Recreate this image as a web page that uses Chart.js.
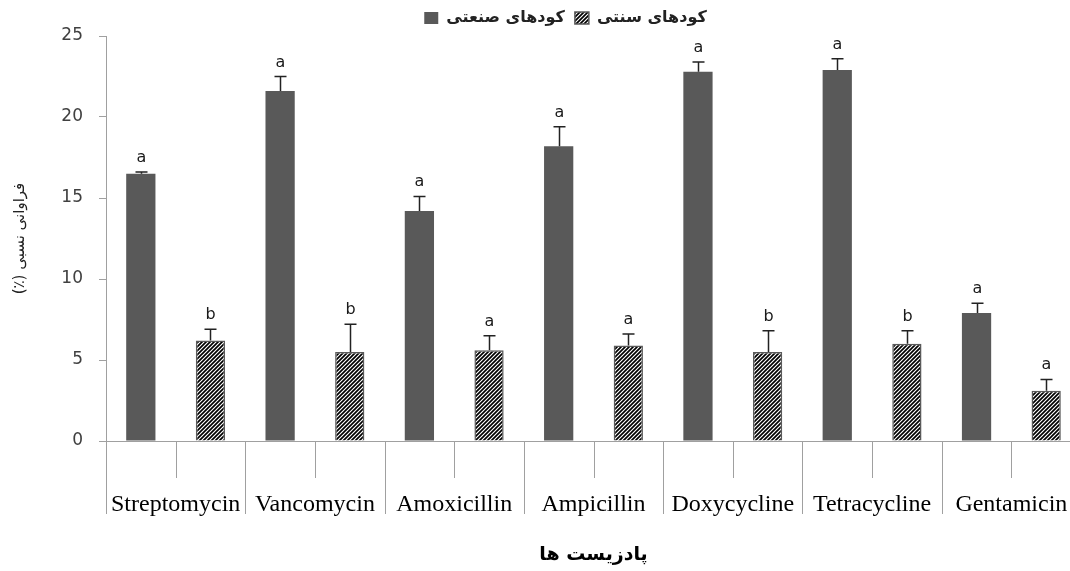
<!DOCTYPE html>
<html>
<head>
<meta charset="utf-8">
<script src="https://cdn.jsdelivr.net/npm/chart.js@4.4.1/dist/chart.umd.min.js"></script>
<style>
  html, body { margin: 0; padding: 0; overflow: hidden; background: #fff; }
  #wrap { width: 1085px; height: 571px; }
</style>
</head>
<body>
<div id="wrap"><canvas id="c" width="1085" height="571"></canvas></div>
<script>
// ---- data ----
const categories = ['Streptomycin', 'Vancomycin', 'Amoxicillin', 'Ampicillin', 'Doxycycline', 'Tetracycline', 'Gentamicin'];
const industrialLabel = 'کودهای صنعتی';
const traditionalLabel = 'کودهای سنتی';
const industrial = [16.5, 21.6, 14.2, 18.2, 22.8, 22.9, 7.9];
const industrialErr = [0.1, 0.9, 0.9, 1.2, 0.6, 0.7, 0.6];
const traditional = [6.2, 5.5, 5.6, 5.9, 5.5, 6.0, 3.1];
const traditionalErr = [0.7, 1.7, 0.9, 0.7, 1.3, 0.8, 0.7];
const industrialLetters = ['a', 'a', 'a', 'a', 'a', 'a', 'a'];
const traditionalLetters = ['b', 'b', 'a', 'a', 'b', 'b', 'a'];
const yTicks = [0, 5, 10, 15, 20, 25];
const yTitle = 'فراوانی نسبی (٪)\u200F';
const xTitle = 'پادزیست ها';

const canvas = document.getElementById('c');
const ctx = canvas.getContext('2d');

function makeHatch() {
  const s = 4;
  const c = document.createElement('canvas');
  c.width = s; c.height = s;
  const g = c.getContext('2d');
  g.fillStyle = '#ffffff';
  g.fillRect(0, 0, s, s);
  g.strokeStyle = '#000000';
  g.lineWidth = 1.7;
  g.beginPath();
  g.moveTo(0, s); g.lineTo(s, 0);
  g.moveTo(-1, 1); g.lineTo(1, -1);
  g.moveTo(s - 1, s + 1); g.lineTo(s + 1, s - 1);
  g.stroke();
  return ctx.createPattern(c, 'repeat');
}
const hatch = makeHatch();

const errs = [industrialErr, traditionalErr];
const letters = [industrialLetters, traditionalLetters];

const legendShiftPlugin = {
  id: 'legendShift',
  afterLayout(chart) {
    const lg = chart.legend;
    if (lg) { lg.left += 25; lg.right += 25; }
  }
};

const xAxisTicksPlugin = {
  id: 'xAxisTicks',
  afterDraw(chart) {
    const sx = chart.scales.x;
    const n = sx.ticks.length;
    const w = (sx.right - sx.left) / n;
    const c = chart.ctx;
    c.save();
    c.strokeStyle = '#a0a0a0';
    c.lineWidth = 1;
    c.beginPath();
    for (let i = 0; i <= n; i++) {
      const x = Math.round(sx.left + i * w) + 0.5;
      c.moveTo(x, sx.top);
      c.lineTo(x, sx.top + 73);
    }
    for (let i = 0; i < n; i++) {
      const x = Math.round(sx.getPixelForValue(i)) + 0.5;
      c.moveTo(x, sx.top);
      c.lineTo(x, sx.top + 37);
    }
    c.stroke();
    c.restore();
  }
};

const errorBarPlugin = {
  id: 'errorBars',
  afterDatasetsDraw(chart) {
    const c = chart.ctx;
    const sy = chart.scales.y;
    c.save();
    chart.data.datasets.forEach((ds, d) => {
      const meta = chart.getDatasetMeta(d);
      meta.data.forEach((bar, i) => {
        const v = ds.data[i];
        const top = sy.getPixelForValue(v + errs[d][i]);
        const base = sy.getPixelForValue(v);
        const x = Math.round(bar.x) + 0.5;
        c.strokeStyle = '#222';
        c.lineWidth = 1.5;
        c.beginPath();
        c.moveTo(x, base);
        c.lineTo(x, top);
        c.moveTo(x - 6, top);
        c.lineTo(x + 6, top);
        c.stroke();
        c.fillStyle = '#1a1a1a';
        c.font = '16px "DejaVu Sans"';
        c.textAlign = 'center';
        c.textBaseline = 'alphabetic';
        c.fillText(letters[d][i], x, top - 10);
      });
    });
    c.restore();
  }
};

new Chart(ctx, {
  type: 'bar',
  data: {
    labels: categories,
    datasets: [
      {
        label: industrialLabel,
        data: industrial,
        backgroundColor: '#595959',
        borderColor: '#595959',
        borderWidth: 0,
        categoryPercentage: 1.0,
        barPercentage: 0.42
      },
      {
        label: traditionalLabel,
        data: traditional,
        backgroundColor: hatch,
        borderColor: '#5a5a5a',
        borderWidth: 1.5,
        categoryPercentage: 1.0,
        barPercentage: 0.42
      }
    ]
  },
  options: {
    responsive: false,
    devicePixelRatio: 1,
    animation: false,
    layout: { padding: { top: 0, right: 4, left: 0, bottom: 0 } },
    plugins: {
      tooltip: { enabled: false },
      legend: {
        position: 'top',
        labels: {
          boxWidth: 14,
          boxHeight: 12,
          padding: 10,
          color: '#222',
          font: { family: 'DejaVu Sans', size: 16, weight: 'bold' }
        }
      }
    },
    scales: {
      x: {
        grid: { display: false, drawTicks: false },
        border: { display: true, color: '#a0a0a0', width: 1 },
        ticks: {
          padding: 49,
          color: '#000',
          font: { family: 'Liberation Serif', size: 24 },
          maxRotation: 0,
          autoSkip: false
        },
        title: {
          display: true,
          text: xTitle,
          color: '#000',
          font: { family: 'DejaVu Sans', size: 19, weight: 'bold' },
          padding: { top: 0, bottom: 5 }
        },
        afterFit(scale) {
          scale.height = 130;
          scale.paddingLeft = 0;
          scale.paddingRight = 0;
        }
      },
      y: {
        min: 0,
        max: 25,
        afterBuildTicks(scale) { scale.ticks = yTicks.map(v => ({ value: v })); },
        ticks: {
          color: '#404040',
          font: { family: 'DejaVu Sans', size: 17 },
          padding: 16
        },
        grid: { drawOnChartArea: false, drawTicks: true, tickLength: 7, color: '#a0a0a0' },
        border: { display: true, color: '#a0a0a0', width: 1 },
        title: {
          display: true,
          text: yTitle,
          color: '#222',
          font: { family: 'DejaVu Sans', size: 15 },
          padding: { top: 11, bottom: 20 }
        },
        afterFit(scale) { scale.width = 106; }
      }
    }
  },
  plugins: [legendShiftPlugin, xAxisTicksPlugin, errorBarPlugin]
});
</script>
</body>
</html>
